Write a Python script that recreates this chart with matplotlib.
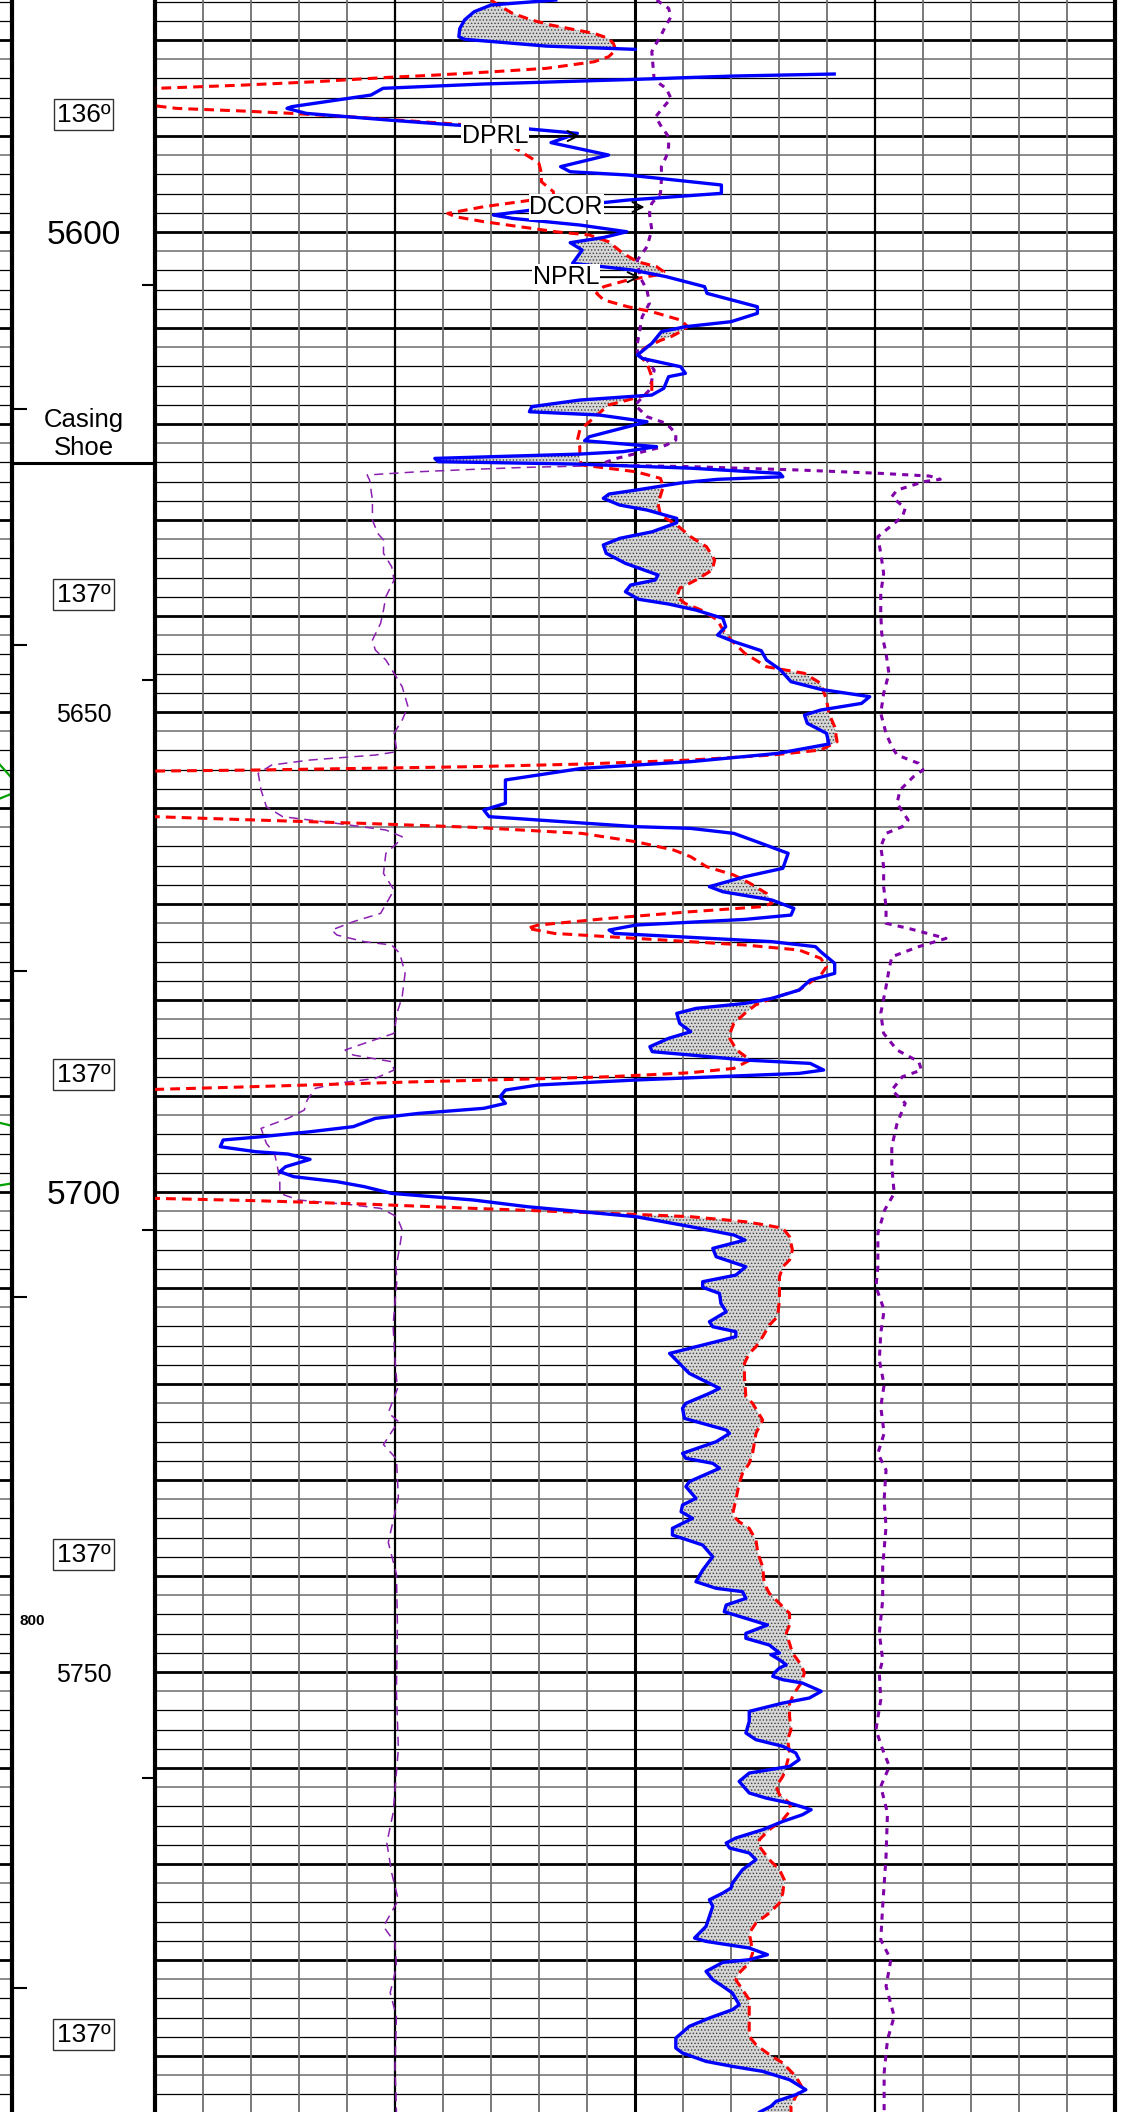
import numpy as np
import matplotlib
matplotlib.use("Agg")
import matplotlib.pyplot as plt

plt.rcParams['font.family'] = ['Liberation Sans', 'DejaVu Sans']
plt.rcParams['hatch.linewidth'] = 0.6
plt.rcParams['hatch.color'] = '#505050'

TOP, BOTTOM = 5575.83, 5795.83

# blue solid curve: depth, value in chart divisions (0 = left edge, 20 = right edge)
blue_depth = [5575.83, 5576.35, 5577.05, 5577.9, 5578.8, 5579.65, 5579.93, 5580.17, 5580.63, 5580.97,
              np.nan,
              5583.54, 5583.75, 5584.1, 5584.58, 5585.03, 5585.73, 5586.94, 5587.12, 5587.64, 5588.33,
              5588.85, 5589.2, 5589.72, 5590.69, 5591.98, 5593.19, 5593.72, 5594.06, 5595.1, 5595.97,
              5596.67, 5597.71, 5598.23, 5598.58, 5599.27, 5599.97, 5600.56, 5601.11, 5601.88, 5603.26,
              5603.96, 5604.65, 5605.69, 5606.39, 5607.78, 5608.47, 5609.34, 5609.86, 5610.38, 5611.6,
              5612.81, 5613.16, 5614.03, 5614.72, 5615.07, 5616.28, 5616.98, 5617.5, 5618.19, 5618.72,
              5619.06, 5619.76, 5621.32, 5621.74, 5622.36, 5622.88, 5623.13, 5623.58, 5623.92, 5624.17,
              5624.6, 5625.14, 5625.49, 5625.76, 5626.11, 5626.88, 5627.29, 5627.74, 5628.44, 5628.96,
              5629.83, 5630.28, 5631.22, 5631.91, 5632.6, 5633.47, 5634.51, 5635.73, 5636.25, 5636.77,
              5637.47, 5638.26, 5638.75, 5639.38, 5640.24, 5641.11, 5641.98, 5642.67, 5643.61, 5644.58,
              5645.56, 5646.84, 5647.64, 5648.4, 5649.1, 5649.79, 5650.31, 5651.18, 5652.22, 5653.33,
              5654.31, 5655.17, 5655.87, 5657.08, 5659.51, 5660.21, 5660.9, 5661.94, 5662.12, 5662.64,
              5663.68, 5664.72, 5666.28, 5667.15, 5668.19, 5668.72, 5669.58, 5670.45, 5671.15, 5671.6,
              5672.19, 5672.71, 5673.06, 5673.47, 5673.92, 5674.44, 5674.97, 5676.18, 5677.22, 5677.92,
              5678.96, 5679.83, 5680.35, 5680.87, 5681.39, 5682.43, 5683.3, 5683.99, 5684.86, 5685.38,
              5685.73, 5686.25, 5686.6, 5687.29, 5687.64, 5687.99, 5688.33, 5688.85, 5689.38, 5690.07,
              5690.76, 5691.28, 5691.81, 5692.33, 5693.19, 5693.72, 5694.24, 5694.58, 5695.28, 5695.8,
              5696.04, 5696.6, 5697.36, 5697.88, 5698.4, 5698.92, 5699.44, 5700.14, 5700.83, 5701.53,
              5702.05, 5702.57, 5703.61, 5704.48, 5705.0, 5705.87, 5706.74, 5707.78, 5708.65, 5709.34,
              5709.93, 5710.56, 5711.6, 5712.47, 5713.51, 5714.03, 5714.55, 5715.07, 5715.94, 5716.81,
              5718.19, 5718.89, 5720.45, 5720.97, 5722.01, 5722.53, 5723.58, 5724.79, 5725.14, 5726.01,
              5727.22, 5727.74, 5728.26, 5728.78, 5730.17, 5730.69, 5731.91, 5732.6, 5733.3, 5733.99,
              5735.03, 5735.73, 5736.77, 5737.99, 5739.38, 5740.59, 5741.28, 5741.63, 5742.33, 5743.02,
              5743.72, 5744.41, 5745.1, 5745.97, 5746.49, 5747.19, 5748.02, 5748.19, 5748.72, 5749.24,
              5749.58, 5750.1, 5750.45, 5750.8, 5751.15, 5752.01, 5752.71, 5753.23, 5754.1, 5755.14,
              5756.35, 5757.05, 5757.74, 5758.44, 5759.13, 5759.83, 5760.52, 5761.39, 5762.6, 5763.13,
              5763.65, 5764.34, 5764.86, 5765.56, 5766.42, 5767.29, 5767.81, 5768.33, 5768.85, 5769.55,
              5770.59, 5771.98, 5772.5, 5773.02, 5773.72, 5774.41, 5775.45, 5776.49, 5777.71, 5778.06,
              5778.75, 5779.44, 5779.97, 5780.24, 5781.18, 5782.05, 5782.74, 5783.44, 5784.65, 5785.17,
              5786.04, 5786.91, 5788.13, 5789.17, 5789.69, 5790.56, 5791.08, 5791.6, 5792.47, 5793.51,
              5794.03, 5794.72, 5795.24, 5795.83]
blue_val = [8.35, 7.0, 6.65, 6.45, 6.35, 6.33, 6.45, 7.05, 8.15, 10.0,
            np.nan,
            14.15, 12.05, 10.0, 6.85, 4.75, 4.5, 2.85, 2.75, 3.15, 4.85,
            6.25, 7.65, 8.8, 8.25, 9.45, 8.45, 8.65, 9.85, 11.8, 11.8,
            9.85, 7.85, 7.05, 7.45, 8.85, 9.83, 9.35, 8.65, 8.9, 8.7,
            9.95, 10.65, 11.45, 11.5, 12.55, 12.55, 12.0, 11.05, 10.55, 10.35,
            10.05, 10.15, 10.95, 11.05, 10.7, 10.6, 10.35, 8.85, 7.85, 7.8,
            9.25, 10.25, 9.05, 8.95, 10.45, 9.75, 8.85, 5.83, 5.9, 8.78,
            11.16, 13.02, 13.08, 11.72, 10.99, 10.02, 9.46, 9.34, 9.68, 10.25,
            10.87, 10.87, 10.36, 9.68, 9.34, 9.4, 9.8, 10.48, 10.42, 9.91,
            9.8, 10.08, 10.7, 11.27, 11.83, 11.89, 11.72, 12.06, 12.63, 12.74,
            13.02, 13.25, 13.87, 14.89, 14.72, 13.87, 13.53, 13.59, 13.99, 14.04,
            12.97, 11.16, 8.89, 7.3, 7.3, 6.85, 6.96, 10.02, 11.16, 12.06,
            12.63, 13.19, 13.08, 12.29, 11.55, 11.83, 12.85, 13.31, 13.25, 12.29,
            10.02, 9.46, 9.57, 11.16, 12.85, 13.76, 13.87, 14.16, 14.16, 13.65,
            13.42, 12.85, 12.29, 11.27, 10.87, 10.93, 11.16, 10.7, 10.31, 10.36,
            11.16, 12.29, 13.65, 13.93, 13.42, 11.72, 10.02, 7.98, 7.3, 7.19,
            7.3, 6.85, 5.49, 4.59, 4.13, 3.23, 2.21, 1.42, 1.36, 2.1,
            2.77, 3.23, 2.72, 2.6, 2.89, 3.79, 4.36, 4.93, 6.63, 7.76,
            8.89, 10.02, 11.16, 12.06, 12.29, 11.62, 11.69, 12.31, 12.1, 11.41,
            11.41, 11.76, 11.79, 11.9, 11.55, 11.62, 12.1, 12.1, 11.41, 10.72,
            10.99, 11.13, 11.76, 11.55, 11.06, 10.99, 11.03, 11.9, 11.97, 11.69,
            10.99, 11.06, 11.62, 11.76, 11.13, 11.06, 11.27, 10.99, 10.96, 11.2,
            10.78, 10.78, 11.41, 11.62, 11.41, 11.27, 11.69, 12.24, 12.31, 11.9,
            11.86, 12.31, 12.76, 12.31, 12.31, 12.8, 13.01, 12.83, 13.01, 13.15,
            13.01, 12.9, 12.87, 13.08, 13.49, 13.88, 13.63, 13.08, 12.38, 12.38,
            12.31, 12.52, 13.08, 13.35, 13.42, 13.22, 12.38, 12.17, 12.38, 12.73,
            13.22, 13.67, 13.49, 13.08, 12.66, 12.1, 11.9, 11.97, 12.38, 12.52,
            12.24, 12.03, 12.0, 11.83, 11.55, 11.62, 11.55, 11.48, 11.24, 11.48,
            12.38, 12.76, 12.38, 11.83, 11.48, 11.62, 11.83, 12.03, 12.17, 12.03,
            11.55, 11.13, 10.85, 10.85, 10.99, 11.48, 12.03, 12.66, 13.22, 13.56,
            13.35, 12.94, 12.83, 12.6]

# red dashed curve (values below 0 run off the left edge of the track)
red_depth = [5575.83, 5576.35, 5577.22, 5577.92, 5578.44, 5579.31, 5579.83, 5580.35, 5581.04, 5581.74,
             5582.26, 5582.95, 5583.3, 5583.65, 5583.89, 5584.34, 5584.69, 5585.03, 5585.3, 5586.6,
             5586.88, 5587.12, 5587.4, 5587.64, 5587.99, 5588.33, 5588.68, 5588.96, 5589.72, 5591.11,
             5592.33, 5592.85, 5593.89, 5594.76, 5595.8, 5596.32, 5596.67, 5597.36, 5598.06, 5598.4,
             5598.92, 5599.62, 5599.97, 5600.31, 5601.01, 5602.22, 5603.09, 5603.61, 5604.13, 5604.48,
             5605.0, 5605.69, 5606.39, 5607.08, 5607.78, 5608.3, 5609.17, 5609.86, 5610.38, 5610.9,
             5611.25, 5611.94, 5612.64, 5613.68, 5615.07, 5616.81, 5617.5, 5618.02, 5618.89, 5619.76,
             5620.63, 5621.67, 5622.36, 5623.75, 5624.27, 5624.97, 5625.66, 5626.53, 5628.26, 5629.48,
             5630.52, 5631.74, 5632.78, 5634.17, 5635.21, 5636.25, 5637.12, 5637.99, 5638.68, 5639.38,
             5640.42, 5641.46, 5642.5, 5643.89, 5645.28, 5645.97, 5647.01, 5648.75, 5650.14, 5651.53,
             5653.09, 5653.96, 5654.48, 5655.0, 5655.42, 5655.69, 5655.87, 5656.04, 5656.15, 5656.3,
             5660.6, 5660.9, 5661.25, 5661.6, 5662.01, 5662.64, 5663.51, 5664.38, 5665.07, 5666.11,
             5666.98, 5667.85, 5668.89, 5669.93, 5670.28, 5670.8, 5671.49, 5672.19, 5672.53, 5673.06,
             5673.58, 5673.92, 5674.27, 5674.79, 5675.66, 5676.53, 5677.4, 5678.96, 5679.83, 5680.52,
             5681.39, 5682.43, 5683.82, 5685.21, 5686.25, 5687.12, 5687.57, 5687.99, 5688.23, 5688.51,
             5688.85, 5689.1, 5689.31, 5689.4, 5700.4, 5700.66, 5700.9, 5701.25, 5701.7, 5702.12,
             5702.33, 5702.57, 5703.09, 5703.44, 5703.78, 5704.65, 5706.04, 5707.08, 5707.78, 5708.82,
             5710.21, 5711.25, 5712.99, 5713.85, 5715.07, 5716.11, 5716.81, 5717.85, 5719.24, 5721.32,
             5722.01, 5723.75, 5725.14, 5727.22, 5728.26, 5729.31, 5730.35, 5732.08, 5733.65, 5734.34,
             5735.03, 5736.25, 5737.64, 5739.03, 5740.76, 5741.81, 5742.85, 5743.89, 5745.1, 5745.97,
             5747.01, 5748.02, 5749.24, 5750.1, 5751.15, 5752.19, 5753.23, 5754.62, 5756.01, 5757.05,
             5758.44, 5759.83, 5760.87, 5761.91, 5762.78, 5763.65, 5764.34, 5765.38, 5766.42, 5767.47,
             5768.16, 5769.55, 5770.59, 5771.63, 5773.02, 5774.06, 5775.1, 5776.15, 5777.19, 5778.23,
             5779.27, 5780.31, 5781.35, 5782.05, 5783.09, 5784.13, 5785.52, 5786.91, 5787.95, 5788.82,
             5789.86, 5790.73, 5792.12, 5793.33, 5794.2, 5795.24, 5795.83]
red_val = [7.0, 7.15, 7.45, 7.85, 8.25, 9.15, 9.45, 9.55, 9.6, 9.45,
           9.15, 8.15, 7.05, 5.85, 4.85, 3.35, 1.85, 0.05, -2, -2,
           0.05, 0.45, 1.85, 2.85, 4.05, 5.05, 6.05, 6.85, 7.35, 7.45,
           7.85, 8.0, 8.05, 8.05, 8.3, 8.3, 7.85, 6.85, 6.1, 6.25,
           6.85, 7.85, 8.35, 9.05, 9.45, 9.75, 10.05, 10.45, 10.6, 10.45,
           9.85, 9.35, 9.2, 9.35, 9.85, 10.35, 10.95, 11.1, 10.95, 10.75,
           10.55, 10.25, 10.05, 10.25, 10.35, 10.35, 9.85, 9.45, 9.25, 9.05,
           8.85, 8.8, 8.85, 8.85, 8.89, 10.02, 10.53, 10.59, 10.48, 10.53,
           10.87, 11.16, 11.49, 11.66, 11.61, 11.27, 10.93, 10.87, 11.04, 11.38,
           11.72, 11.83, 12.0, 12.29, 12.74, 13.53, 13.87, 13.99, 14.04, 14.16,
           14.21, 13.87, 12.85, 11.16, 8.89, 6.63, 4.36, 2.1, 0.0, -2,
           -2, 0.0, 2.1, 4.36, 6.63, 8.89, 10.02, 10.81, 11.16, 11.49,
           12.06, 12.4, 12.74, 12.85, 12.63, 11.16, 9.46, 7.98, 7.76, 8.32,
           10.02, 11.16, 12.29, 13.42, 13.87, 13.99, 13.87, 13.42, 12.85, 12.51,
           12.29, 12.06, 11.95, 12.12, 12.4, 12.06, 11.16, 9.46, 7.76, 5.49,
           3.23, 1.53, 0.0, -2, -2, 0.0, 2.1, 4.36, 6.63, 8.89,
           10.02, 11.16, 12.29, 12.73, 13.08, 13.22, 13.28, 13.22, 13.08, 13.01,
           13.01, 13.01, 12.97, 12.8, 12.66, 12.52, 12.38, 12.28, 12.28, 12.31,
           12.45, 12.66, 12.52, 12.45, 12.38, 12.24, 12.17, 12.1, 12.03, 12.17,
           12.38, 12.52, 12.56, 12.66, 12.69, 12.8, 13.01, 13.22, 13.22, 13.15,
           13.22, 13.28, 13.46, 13.53, 13.46, 13.32, 13.22, 13.22, 13.25, 13.18,
           13.22, 13.15, 13.08, 12.94, 13.01, 13.22, 13.25, 13.08, 12.8, 12.59,
           12.59, 12.8, 13.01, 13.11, 13.08, 13.01, 12.8, 12.52, 12.38, 12.42,
           12.45, 12.38, 12.17, 12.1, 12.24, 12.38, 12.38, 12.38, 12.38, 12.52,
           12.8, 13.08, 13.35, 13.49, 13.35, 13.25, 13.25]

# thick purple dotted curve (centre above the casing shoe, right side below it)
dcor_depth = [5575.83, 5576.7, 5577.57, 5578.61, 5579.65, 5580.69, 5581.22, 5584.17, 5585.03, 5586.08,
              5586.94, 5587.99, 5589.03, 5590.07, 5591.11, 5592.15, 5593.19, 5594.58, 5595.97, 5597.01,
              5598.06, 5599.79, 5601.53, 5602.92, 5604.65, 5606.04, 5607.43, 5608.82, 5610.21, 5611.6,
              5612.64, 5613.33, 5614.38, 5615.42, 5616.46, 5617.5, 5618.02, 5619.24, 5619.93, 5620.97,
              5621.67, 5622.19, 5622.53, 5623.6, 5624.27, 5624.44, 5624.79, 5625.14, 5625.42, 5625.76,
              5626.0, 5626.88, 5627.57, 5628.78, 5629.65, 5631.04, 5631.74, 5633.47, 5635.56, 5637.64,
              5639.72, 5641.81, 5643.89, 5645.97, 5648.06, 5650.14, 5652.22, 5653.61, 5654.48, 5655.35,
              5656.04, 5656.74, 5658.13, 5659.51, 5661.25, 5661.94, 5662.64, 5664.03, 5666.11, 5668.19,
              5670.28, 5672.01, 5672.53, 5673.58, 5674.44, 5675.49, 5676.88, 5678.61, 5681.39, 5683.47,
              5685.21, 5686.42, 5687.29, 5687.99, 5689.38, 5690.76, 5692.85, 5695.28, 5697.36, 5700.14,
              5701.88, 5704.31, 5707.78, 5709.86, 5712.29, 5714.72, 5717.5, 5720.1, 5722.36, 5725.14,
              5727.22, 5728.96, 5732.08, 5734.86, 5739.03, 5742.5, 5745.97, 5748.72, 5750.1, 5752.88,
              5756.01, 5758.09, 5759.83, 5761.91, 5764.69, 5769.2, 5774.41, 5777.88, 5779.97, 5782.74,
              5785.87, 5788.3, 5791.77, 5795.83]
dcor_val = [10.45, 10.7, 10.75, 10.63, 10.53, 10.4, 10.35, 10.4, 10.65, 10.75,
            10.6, 10.43, 10.55, 10.7, 10.7, 10.65, 10.55, 10.55, 10.53, 10.35,
            10.3, 10.35, 10.25, 10.05, 10.1, 10.25, 10.3, 10.15, 10.1, 10.05,
            10.05, 10.25, 10.4, 10.35, 10.3, 10.1, 10.0, 10.25, 10.65, 10.85,
            10.85, 10.65, 10.45, 9.6, 9.23, 11.16, 13.42, 15.12, 16.14, 16.36,
            16.02, 15.46, 15.35, 15.63, 15.57, 15.23, 15.06, 15.12, 15.18, 15.12,
            15.12, 15.14, 15.23, 15.29, 15.18, 15.12, 15.23, 15.35, 15.46, 15.91,
            16.0, 15.8, 15.52, 15.46, 15.69, 15.57, 15.23, 15.12, 15.18, 15.18,
            15.23, 15.23, 15.69, 16.48, 15.91, 15.35, 15.29, 15.23, 15.12, 15.18,
            15.46, 15.91, 15.97, 15.57, 15.35, 15.63, 15.46, 15.35, 15.35, 15.4,
            15.2, 15.06, 15.06, 15.02, 15.19, 15.12, 15.09, 15.19, 15.12, 15.19,
            15.06, 15.23, 15.19, 15.23, 15.16, 15.16, 15.09, 15.16, 15.09, 15.12,
            15.02, 15.16, 15.3, 15.12, 15.26, 15.23, 15.16, 15.12, 15.33, 15.23,
            15.4, 15.26, 15.19, 15.19]

# thin purple dashed curve on the left, below the casing shoe
cal_depth = [5624.38, 5624.51, 5624.72, 5624.97, 5625.31, 5625.83, 5627.92, 5630.0, 5631.39, 5632.08,
             5633.47, 5634.86, 5636.25, 5637.99, 5639.38, 5640.76, 5642.5, 5643.54, 5644.58, 5645.97,
             5647.36, 5649.44, 5650.83, 5652.22, 5654.13, 5654.48, 5655.0, 5655.52, 5656.39, 5658.13,
             5659.86, 5660.9, 5661.6, 5662.29, 5662.99, 5663.68, 5664.72, 5666.81, 5668.54, 5670.97,
             5671.84, 5672.71, 5673.23, 5673.92, 5674.27, 5675.14, 5677.22, 5679.65, 5681.39, 5683.47,
             5684.51, 5685.21, 5685.73, 5686.42, 5687.29, 5688.16, 5688.68, 5689.2, 5690.42, 5691.46,
             5692.33, 5693.37, 5694.93, 5695.97, 5697.36, 5698.75, 5700.14, 5700.83, 5701.35, 5701.7,
             5702.57, 5703.96, 5705.69, 5707.9, 5709.17, 5713.9, 5717.5, 5720.5, 5723.0, 5723.9,
             5726.3, 5727.8, 5731.8, 5736.5, 5739.8, 5745.0, 5752.0, 5758.0, 5764.7, 5767.8,
             5770.9, 5773.75, 5776.5, 5778.2, 5780.7, 5783.4, 5785.9, 5791.1, 5795.83]
cal_val = [8.89, 7.76, 6.63, 5.49, 4.42, 4.47, 4.53, 4.53, 4.64, 4.76,
           4.76, 4.93, 4.98, 4.81, 4.76, 4.7, 4.53, 4.59, 4.81, 4.98,
           5.15, 5.27, 5.15, 4.98, 5.04, 4.59, 3.23, 2.43, 2.15, 2.21,
           2.32, 2.66, 3.79, 4.81, 5.15, 5.04, 4.81, 4.76, 4.98, 4.7,
           4.13, 3.68, 3.79, 4.36, 4.93, 5.1, 5.21, 5.15, 5.04, 4.98,
           4.36, 3.96, 4.13, 4.93, 4.98, 4.59, 3.79, 3.34, 3.17, 3.11,
           2.77, 2.21, 2.32, 2.49, 2.55, 2.6, 2.6, 2.99, 4.13, 4.7,
           5.04, 5.15, 5.1, 5.02, 5.04, 4.96, 5.0, 5.05, 4.86, 5.07,
           4.76, 5.03, 5.07, 4.86, 5.03, 5.05, 5.03, 5.07, 4.96, 4.83,
           4.93, 5.07, 4.76, 5.0, 5.03, 4.9, 5.03, 5.0, 5.03]

# green curve of the neighbouring track (only its tips poke in)
green_depth = [5654.8, 5655.5, 5656.9, 5657.7, 5658.5, 5659.0, 5659.6, np.nan,
               5692.6, 5692.8, 5693.1, 5696.1, 5699.1, 5699.3, 5699.5]
green_val = [-0.5, 0.0, 1.0, 1.6, 1.0, 0.0, -0.5, np.nan,
             -0.2, 0.0, 1.0, 3.0, 1.0, 0.0, -0.2]

depth_labels = [5600, 5650, 5700, 5750]
depth_label_size = [24, 18, 24, 18]
temp_depths = [5587.5, 5637.5, 5687.5, 5737.5, 5787.5]
temp_labels = ['136º', '137º', '137º', '137º', '137º']
left_ticks = [5618.4, 5643.0, 5677.0, 5710.9, 5782.9]
right_ticks = [5605.5, 5646.7, 5704.0, 5761.0]
casing_depth = 5624.06

curve_labels = ['DPRL', 'DCOR', 'NPRL']
curve_label_depth = [5590.0, 5597.4, 5604.7]
curve_label_x = [6.4, 7.8, 7.87]
curve_arrow_x = [8.85, 10.2, 10.1]

W, H = 1140, 2112
fig = plt.figure(figsize=(W / 100, H / 100), dpi=100)
ax_n = fig.add_axes([0, 0, 12 / W, 1])
ax_d = fig.add_axes([12 / W, 0, 143 / W, 1])
ax = fig.add_axes([155 / W, 0, 960 / W, 1])

grid_depths = np.arange(5576, 5796, 2)


def hgrid(a):
    for g in grid_depths:
        if g % 10 == 0:
            a.axhline(g, color='black', lw=2.0, zorder=1)
        elif g % 10 == 2:
            a.axhline(g, color='#8a8a8a', lw=1.4, zorder=1)
        else:
            a.axhline(g, color='black', lw=0.9, zorder=1)


for a in (ax_n, ax_d, ax):
    a.set_ylim(BOTTOM, TOP)
    a.set_xticks([])
    a.set_yticks([])
    for s in a.spines.values():
        s.set_visible(False)

# neighbour track sliver
ax_n.set_xlim(0, 1)
hgrid(ax_n)
ax_n.plot(green_val, green_depth, color='#00a000', lw=1.6, zorder=3)

# depth track
ax_d.set_xlim(0, 1)
ax_d.spines['left'].set_visible(True)
ax_d.spines['left'].set_linewidth(3.0)
ax_d.hlines(left_ticks, 0, 0.105, color='black', lw=1.5)
ax_d.hlines(right_ticks, 0.91, 1.0, color='black', lw=1.5)
ax_d.hlines(casing_depth, 0, 1, color='black', lw=2.2)
for dep, size in zip(depth_labels, depth_label_size):
    ax_d.text(0.5, dep, str(dep), ha='center', va='center_baseline', fontsize=size)
for dep, lab in zip(temp_depths, temp_labels):
    ax_d.text(0.5, dep, lab, ha='center', va='center_baseline', fontsize=19,
              bbox=dict(facecolor='white', edgecolor='#333333', lw=1.0, boxstyle='square,pad=0.12'))
ax_d.text(0.5, 5620.3, 'Casing', ha='center', va='baseline', fontsize=18.5)
ax_d.text(0.5, 5623.2, 'Shoe', ha='center', va='baseline', fontsize=18.5)
ax_d.text(0.14, 5744.7, '800', ha='center', va='center', fontsize=11, fontweight='bold')

# main track grid
ax.set_xlim(0, 20)
hgrid(ax)
for d in range(1, 20):
    if d == 10:
        ax.axvline(d, color='black', lw=2.2, zorder=1)
    elif d % 5 == 0:
        ax.axvline(d, color='black', lw=1.6, zorder=1)
    else:
        ax.axvline(d, color='#707070', lw=1.3, zorder=1)
for side in ('left', 'right'):
    ax.spines[side].set_visible(True)
    ax.spines[side].set_linewidth(3.0)

# shading where the blue curve sits left of the red one
bd = np.array(blue_depth)
bv = np.array(blue_val)
ok = ~np.isnan(bd)
yy = np.linspace(TOP, BOTTOM, 6000)
b_i = np.interp(yy, bd[ok], bv[ok])
gap = (yy > blue_depth[9]) & (yy < blue_depth[11])
b_i[gap] = np.nan
r_i = np.interp(yy, red_depth, red_val)
ax.fill_betweenx(yy, b_i, r_i, where=(b_i < r_i), interpolate=True,
                 facecolor='#d6d6d6', edgecolor='#404040', hatch='.....', linewidth=0, zorder=2)

ax.plot(cal_val, cal_depth, color='#8a1fb0', lw=1.1, ls=(0, (6, 4)), zorder=3)
ax.plot(dcor_val, dcor_depth, color='#7f00a8', lw=2.2, ls=(0, (2, 2)), zorder=3)
ax.plot(red_val, red_depth, color='#ff0000', lw=2.2, ls=(0, (3.2, 2)), zorder=4)
ax.plot(blue_val, blue_depth, color='#0000ff', lw=2.4, zorder=5)

for lab, dep, x0, x1 in zip(curve_labels, curve_label_depth, curve_label_x, curve_arrow_x):
    ax.annotate(lab, xy=(x1, dep), xytext=(x0, dep), ha='left', va='center', fontsize=18,
                bbox=dict(facecolor='white', edgecolor='none', pad=0.5), zorder=6,
                arrowprops=dict(arrowstyle='->', color='black', lw=1.4, shrinkA=0, shrinkB=0))

fig.savefig('out.png', dpi=100)
